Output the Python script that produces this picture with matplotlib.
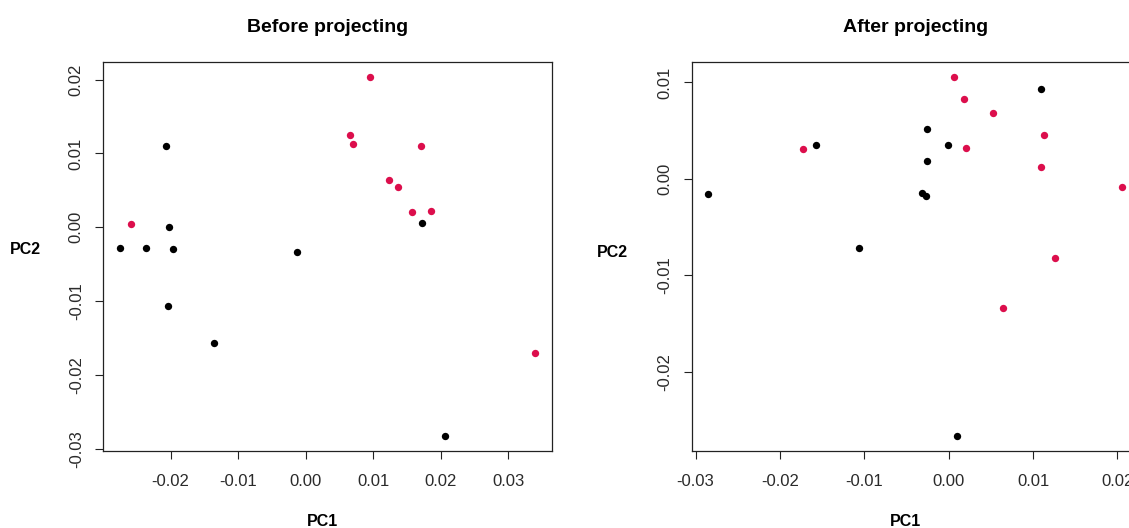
import numpy as np
import matplotlib
matplotlib.use("Agg")
import matplotlib.pyplot as plt

# ---- Data ----
before_black_pc1 = [-0.0275, -0.0236, -0.0206, -0.0203, -0.0197, -0.0204, -0.0135, -0.0013, 0.0172, 0.0206]
before_black_pc2 = [-0.0028, -0.0028, 0.0110, 0.0000, -0.0029, -0.0107, -0.0157, -0.0033, 0.0006, -0.0283]
before_red_pc1 = [-0.0258, 0.0095, 0.0066, 0.0070, 0.0171, 0.0124, 0.0137, 0.0158, 0.0186, 0.0340]
before_red_pc2 = [0.0005, 0.0204, 0.0125, 0.0113, 0.0110, 0.0064, 0.0055, 0.0021, 0.0022, -0.0170]

after_black_pc1 = [-0.0285, -0.0157, -0.0026, -0.0001, -0.0026, -0.0032, -0.0027, -0.0106, 0.0010, 0.0109]
after_black_pc2 = [-0.0016, 0.0035, 0.0052, 0.0035, 0.0019, -0.0015, -0.0018, -0.0072, -0.0267, 0.0093]
after_red_pc1 = [-0.0173, 0.0006, 0.0018, 0.0052, 0.0020, 0.0113, 0.0109, 0.0126, 0.0064, 0.0206]
after_red_pc2 = [0.0031, 0.0106, 0.0083, 0.0068, 0.0032, 0.0046, 0.0012, -0.0082, -0.0134, -0.0008]

titles = ["Before projecting", "After projecting"]
xlabel = "PC1"
ylabel = "PC2"
before_xticks = [-0.02, -0.01, 0.00, 0.01, 0.02, 0.03]
before_yticks = [-0.03, -0.02, -0.01, 0.00, 0.01, 0.02]
after_xticks = [-0.03, -0.02, -0.01, 0.00, 0.01, 0.02]
after_yticks = [-0.02, -0.01, 0.00, 0.01]

BLACK = "#000000"
RED = "#DC0E4C"
TEXT = "#2a2a2a"

plt.rcParams['font.family'] = ['Liberation Sans', 'DejaVu Sans']

W, H = 1129, 528
fig = plt.figure(figsize=(W / 100, H / 100), dpi=100)
fig.patch.set_facecolor("white")

def px_axes(x0, y0, x1, y1):
    return fig.add_axes([x0 / W, 1 - y1 / H, (x1 - x0) / W, (y1 - y0) / H])

ax1 = px_axes(103.3, 62.3, 551.7, 450.7)
ax2 = px_axes(691.7, 62.3, 1139.0, 450.7)

def rlim(vals):
    lo, hi = min(vals), max(vals)
    pad = 0.04 * (hi - lo)
    return lo - pad, hi + pad

panels = [
    (ax1, before_black_pc1, before_black_pc2, before_red_pc1, before_red_pc2,
     before_xticks, before_yticks, titles[0], (0.489, -0.181), (-0.1726, 0.5185)),
    (ax2, after_black_pc1, after_black_pc2, after_red_pc1, after_red_pc2,
     after_xticks, after_yticks, titles[1], (0.478, -0.181), (-0.1765, 0.51)),
]

for ax, bx, by, rx, ry, xt, yt, title, xlc, ylc in panels:
    ax.scatter(bx, by, s=28, color=BLACK, linewidths=0, zorder=3)
    ax.scatter(rx, ry, s=28, color=RED, linewidths=0, zorder=3)
    ax.set_xlim(*rlim(list(bx) + list(rx)))
    ax.set_ylim(*rlim(list(by) + list(ry)))
    ax.set_xticks(xt)
    ax.set_yticks(yt)
    ax.set_xticklabels([f"{v:.2f}" for v in xt])
    ax.set_yticklabels([f"{v:.2f}" for v in yt], rotation=90, va="center")
    ax.tick_params(direction="out", length=6, width=0.8, color="#222222",
                   labelsize=12, labelcolor=TEXT)
    ax.tick_params(axis="x", pad=11)
    ax.tick_params(axis="y", pad=8)
    for sp in ax.spines.values():
        sp.set_linewidth(0.9)
        sp.set_color("#222222")
    ax.set_title(title, fontsize=14, fontweight="bold", pad=22, color="black")
    ax.set_xlabel(xlabel, fontsize=11.5, fontweight="bold", color="black")
    ax.xaxis.label.set_va("center")
    ax.xaxis.set_label_coords(*xlc)
    ax.set_ylabel(ylabel, fontsize=11.5, fontweight="bold", color="black",
                  rotation=0, ha="center", va="center")
    ax.yaxis.set_label_coords(*ylc)

fig.savefig("out.png", dpi=100)
